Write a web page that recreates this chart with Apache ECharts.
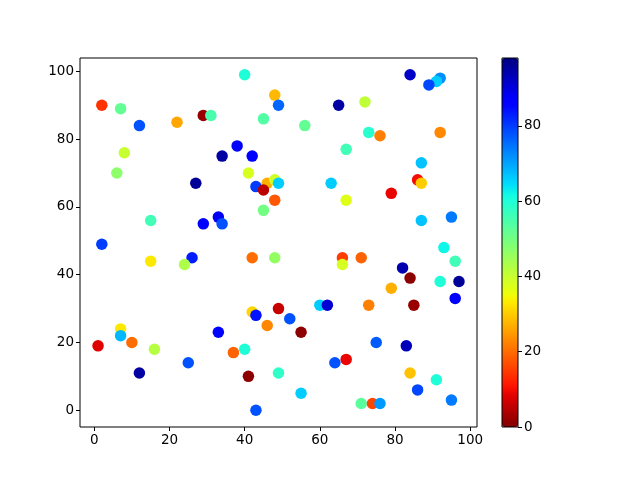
<!DOCTYPE html>
<html><head><meta charset="utf-8">
<script src="https://cdn.jsdelivr.net/npm/echarts@6/dist/echarts.min.js"></script>
<style>html,body{margin:0;padding:0;background:#fff}#c{width:640px;height:480px}</style>
</head><body><div id="c"></div>
<script>
// x, y, colour value
const xs = [2,7,12,22,29,31,8,6,27,15,29,2,40,48,49,65,45,56,38,34,42,67,41,43,46,48,49,45,63,67,48,45,33,34,84,92,91,89,72,73,76,92,87,86,87,79,87,95,15,26,24,33,7,7,10,1,16,25,12,42,48,66,66,71,42,43,49,52,46,55,60,62,37,40,64,67,41,49,55,43,93,96,82,84,92,97,79,96,73,85,75,83,84,91,86,95,71,74,76];
const ys = [90,89,84,85,87,87,76,70,67,56,55,49,99,93,90,90,86,84,78,75,75,77,70,66,67,68,67,65,67,62,62,59,57,55,99,98,97,96,91,82,81,82,73,68,67,64,56,57,44,45,43,23,24,22,20,19,18,14,11,45,45,45,43,45,29,28,30,27,25,23,31,31,17,18,14,15,10,11,5,0,48,44,42,39,38,38,36,33,31,31,20,19,11,9,6,3,2,2,2];
const cs = [14,52,78,26,2,55,40,47,96,56,86,80,60,28,76,95,54,52,86,95,87,56,38,80,27,39,66,5,66,37,18,50,88,78,92,72,66,79,41,59,22,23,67,10,30,9,67,74,33,83,43,86,33,68,20,8,42,78,95,20,46,15,38,19,31,84,6,78,23,1,66,91,19,60,78,9,1,58,66,78,62,56,94,1,60,96,27,87,22,2,77,93,29,60,79,74,53,16,71];
const xTicks = [0,20,40,60,80,100];
const yTicks = [0,20,40,60,80,100];
const cTicks = [0,20,40,60,80];
const cMin = 0, cMax = 98;

function seg(pts, s){
  for(let i=1;i<pts.length;i++){
    if(s<=pts[i][0]){const a=pts[i-1],b=pts[i];return a[1]+(b[1]-a[1])*(s-a[0])/(b[0]-a[0]);}
  }
  return pts[pts.length-1][1];
}
function jet(s){
  const r=seg([[0,0],[0.35,0],[0.66,1],[0.89,1],[1,0.5]],s);
  const g=seg([[0,0],[0.125,0],[0.375,1],[0.64,1],[0.91,0],[1,0]],s);
  const b=seg([[0,0.5],[0.11,1],[0.34,1],[0.65,0],[1,0]],s);
  return 'rgb('+Math.round(r*255)+','+Math.round(g*255)+','+Math.round(b*255)+')';
}
const cmap=[];for(let i=0;i<=64;i++){cmap.push(jet(1-i/64));}

const data = xs.map((x,i)=>[x,ys[i],cs[i]]);
const font = 'DejaVu Sans';
const tick = (vals)=>({show:true,length:4,inside:false,customValues:vals,lineStyle:{color:'#000',width:1}});
const lab = (vals)=>({customValues:vals,color:'#000',fontFamily:font,fontSize:13.5,margin:6});
const chart = echarts.init(document.getElementById('c'),null,{renderer:'canvas'});
chart.setOption({
  animation:false,
  backgroundColor:'#fff',
  grid:[
    {left:80,top:58,width:397,height:369,show:true,borderColor:'#000',borderWidth:1,backgroundColor:'transparent'},
    {left:502,top:58,width:16,height:369,show:true,borderColor:'#000',borderWidth:1,backgroundColor:'transparent',z:10}
  ],
  xAxis:[
    {gridIndex:0,type:'value',min:-3.8,max:101.8,position:'bottom',splitLine:{show:false},axisLine:{show:false,onZero:false},
     axisTick:tick(xTicks),axisLabel:lab(xTicks)},
    {gridIndex:1,type:'value',min:0,max:1,show:false}
  ],
  yAxis:[
    {gridIndex:0,type:'value',min:-4.95,max:103.95,position:'left',splitLine:{show:false},axisLine:{show:false,onZero:false},
     axisTick:tick(yTicks),axisLabel:lab(yTicks)},
    {gridIndex:1,type:'value',min:cMin,max:cMax,position:'right',splitLine:{show:false},axisLine:{show:false,onZero:false},
     axisTick:tick(cTicks),axisLabel:lab(cTicks)}
  ],
  visualMap:{type:'continuous',min:cMin,max:cMax,dimension:2,seriesIndex:0,
    left:502,top:58,itemWidth:16,itemHeight:369,padding:0,calculable:false,text:null,showLabel:false,
    inRange:{color:cmap}},
  series:[{type:'scatter',xAxisIndex:0,yAxisIndex:0,symbol:'circle',symbolSize:11.5,data:data,
    itemStyle:{opacity:1,borderWidth:0}}]
});
</script></body></html>
